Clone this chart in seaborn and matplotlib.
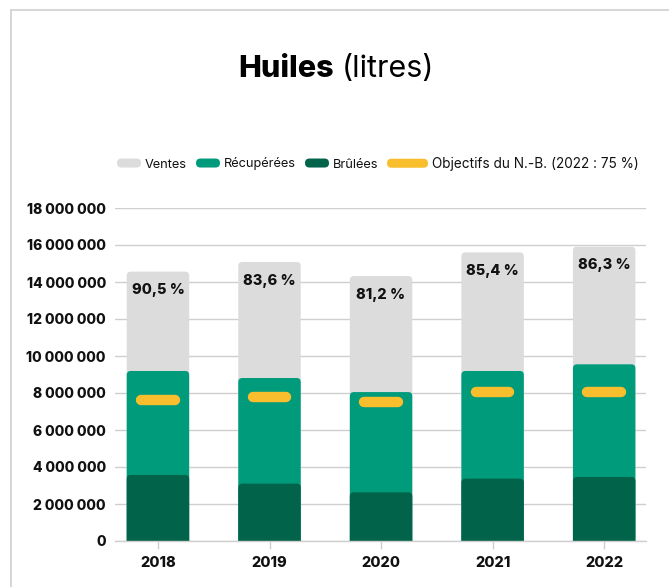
import matplotlib
matplotlib.use("Agg")
import matplotlib.pyplot as plt
import seaborn as sns
import pandas as pd
from matplotlib.patches import FancyBboxPatch
from matplotlib.lines import Line2D
from matplotlib.legend_handler import HandlerBase

# ---- data ----
years = ["2018", "2019", "2020", "2021", "2022"]
ventes = [14560000, 15080000, 14320000, 15600000, 15910000]
recuperees = [9190000, 8810000, 8050000, 9190000, 9550000]
brulees = [3570000, 3100000, 2630000, 3370000, 3460000]
objectifs = [7600000, 7780000, 7500000, 8070000, 8070000]
taux = ["90,5 %", "83,6 %", "81,2 %", "85,4 %", "86,3 %"]
y_ticks = [0, 2000000, 4000000, 6000000, 8000000, 10000000,
           12000000, 14000000, 16000000, 18000000]
legend_labels = ["Ventes", "Récupérées", "Brûlées", "Objectifs du N.-B. (2022 : 75 %)"]

C_GRAY = "#dcdcdc"
C_TEAL = "#009b7b"
C_DARK = "#00634a"
C_YEL = "#f8be2d"
C_GRID = "#cfcfcf"
HEAVY = 800

df = pd.DataFrame({"annee": years, "ventes": ventes, "recuperees": recuperees,
                   "brulees": brulees, "objectifs": objectifs})

sns.set_theme(style="white")
plt.rcParams["font.family"] = ["Inter", "DejaVu Sans"]

W, H = 669, 587
fig = plt.figure(figsize=(W / 100, H / 100), dpi=100)
ax = fig.add_axes([115 / W, 1 - 541 / H, (646 - 115) / W, (541 - 208) / H])

bw = 0.56
for col, c in [("ventes", C_GRAY), ("recuperees", C_TEAL), ("brulees", C_DARK)]:
    sns.barplot(data=df, x="annee", y=col, color=c, width=bw, ax=ax,
                saturation=1, zorder=2, errorbar=None)

ax.set_xlim(-0.385, 4.375)
ax.set_ylim(0, 18000000)
ax.set_yticks(y_ticks)
ax.set_yticklabels([f"{v:,}".replace(",", " ") for v in y_ticks])
ax.set_xlabel("")
ax.set_ylabel("")

# rounded bar corners (derived from seaborn's bars)
fig.canvas.draw()
bbox = ax.get_window_extent()
xpp = (ax.get_xlim()[1] - ax.get_xlim()[0]) / bbox.width
ypp = (ax.get_ylim()[1] - ax.get_ylim()[0]) / bbox.height
aspect = ypp / xpp
r = 4 * xpp
rects = list(ax.patches)
for p in rects:
    x0, y0 = p.get_x(), p.get_y()
    w, h = p.get_width(), p.get_height()
    fc = p.get_facecolor()
    z = p.get_zorder()
    p.remove()
    ext = r * aspect * 1.5
    fb = FancyBboxPatch((x0, y0 - ext), w, h + ext,
                        boxstyle=f"round,pad=0,rounding_size={r}",
                        mutation_aspect=aspect, facecolor=fc, edgecolor="none",
                        zorder=z)
    ax.add_patch(fb)

# objective markers
xs = range(len(years))
ax.hlines(objectifs, [i - 0.15 for i in xs], [i + 0.15 for i in xs],
          colors=C_YEL, linewidth=7.5, capstyle="round", zorder=5)

# percentage labels
for i, (v, t) in enumerate(zip(ventes, taux)):
    ax.annotate(t, (i, v), xytext=(0, -8.5), textcoords="offset points",
                ha="center", va="top", fontsize=10.5, fontweight=HEAVY,
                color="#111111", zorder=6)

# grid & spines
ax.grid(axis="y", color=C_GRID, linewidth=1)
ax.set_axisbelow(True)
for s in ["top", "right", "left"]:
    ax.spines[s].set_visible(False)
ax.spines["bottom"].set_color(C_GRID)
ax.spines["bottom"].set_linewidth(1)
ax.tick_params(axis="y", length=0, pad=6.5, labelsize=10, labelcolor="#111111")
ax.tick_params(axis="x", length=6, width=1, color=C_GRID, pad=5,
               labelsize=10.5, labelcolor="#111111", bottom=True)
for lab in ax.get_yticklabels() + ax.get_xticklabels():
    lab.set_fontweight(HEAVY)

# title
fig.text(334 / W, 1 - 69 / H, "Huiles", ha="right", va="center",
         fontsize=22, fontweight=HEAVY, color="#000000")
fig.text(342 / W, 1 - 69 / H, "(litres)", ha="left", va="center",
         fontsize=22, color="#000000")


# legends with pill handles
class PillHandler(HandlerBase):
    def __init__(self, hpx):
        super().__init__()
        self.hpx = hpx

    def create_artists(self, legend, orig_handle, xdescent, ydescent,
                       width, height, fontsize, trans):
        hh = self.hpx * 0.72
        yb = -ydescent + (height - hh) / 2
        p = FancyBboxPatch((-xdescent, yb), width, hh,
                           boxstyle=f"round,pad=0,rounding_size={hh / 2}",
                           facecolor=orig_handle.get_color(), edgecolor="none",
                           transform=trans)
        return [p]


fs = 9.2
fs_px = fs / 0.72
h1 = [Line2D([], [], color=c) for c in (C_GRAY, C_TEAL, C_DARK)]
leg1 = fig.legend(h1, legend_labels[:3], loc="center left",
                  bbox_to_anchor=(117 / W, 1 - 164 / H), ncol=3, frameon=False,
                  fontsize=fs, handlelength=24 / fs_px, handleheight=0.7,
                  handletextpad=4 / fs_px, columnspacing=9 / fs_px,
                  borderpad=0, borderaxespad=0,
                  handler_map={Line2D: PillHandler(9)})
h2 = [Line2D([], [], color=C_YEL)]
leg2 = fig.legend(h2, legend_labels[3:], loc="center left",
                  bbox_to_anchor=(387 / W, 1 - 164 / H), ncol=1, frameon=False,
                  fontsize=9.8, handlelength=41 / (9.8 / 0.72), handleheight=0.7,
                  handletextpad=4 / (9.8 / 0.72), borderpad=0, borderaxespad=0,
                  handler_map={Line2D: PillHandler(9)})
for leg in (leg1, leg2):
    for t in leg.get_texts():
        t.set_color("#111111")

# outer frame (top and left edges)
fig.add_artist(Line2D([10.5 / W, 10.5 / W], [0, 1 - 9.5 / H],
                      transform=fig.transFigure, color="#d0d0d0", linewidth=1.2))
fig.add_artist(Line2D([10.5 / W, 1], [1 - 9.5 / H, 1 - 9.5 / H],
                      transform=fig.transFigure, color="#d0d0d0", linewidth=1.2))

fig.savefig("out.png", dpi=100, facecolor="white")
